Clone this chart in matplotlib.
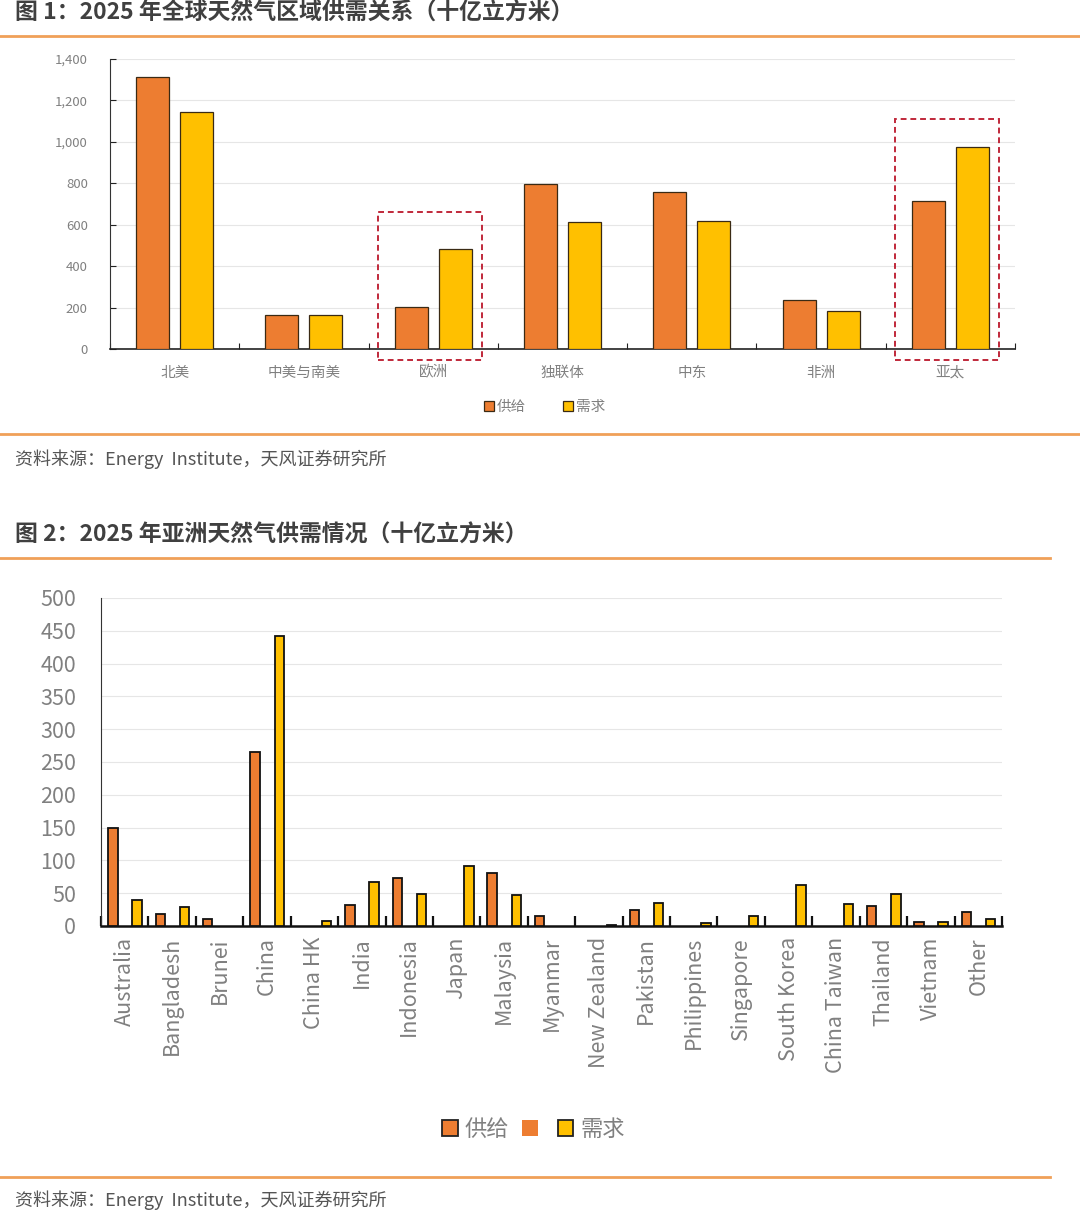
import numpy as np
import matplotlib.pyplot as plt
from matplotlib.patches import Rectangle
from matplotlib.ticker import FuncFormatter
from matplotlib.lines import Line2D

plt.rcParams['font.family'] = ['Noto Sans CJK SC', 'DejaVu Sans']

### data ###
regions = ['北美', '中美与南美', '欧洲', '独联体', '中东', '非洲', '亚太']
region_supply = [1313, 165, 203, 797, 758, 237, 715]
region_demand = [1145, 163, 483, 613, 618, 184, 976]
highlight = ['欧洲', '亚太']
highlight_top = [660, 1110]

countries = ['Australia', 'Bangladesh', 'Brunei', 'China', 'China HK', 'India',
             'Indonesia', 'Japan', 'Malaysia', 'Myanmar', 'New Zealand', 'Pakistan',
             'Philippines', 'Singapore', 'South Korea', 'China Taiwan', 'Thailand',
             'Vietnam', 'Other']
asia_supply = [149, 19, 11, 265, 0, 32, 73, 0, 81, 15, 0, 25, 0, 0, 0, 0, 30, 6, 21]
asia_demand = [40, 29, 0, 442, 7, 67, 49, 91, 47, 0, 2, 35, 4, 15, 62, 33, 49, 6, 11]

ORANGE = '#ED7D31'
YELLOW = '#FFC000'
LINE = '#F0A058'
GREY = '#808080'
TITLE = '#404040'

W, H = 1080, 1211
fig = plt.figure(figsize=(W / 100, H / 100), dpi=100)


def px(x, y):
    return x / W, 1 - y / H


def hline(y, x0, x1):
    fig.add_artist(Line2D([x0 / W, x1 / W], [1 - y / H, 1 - y / H], color=LINE, lw=2))


# headers / footers
fig.text(*px(15, 13), '图 1：2025 年全球天然气区域供需关系（十亿立方米）', fontsize=16.5,
         fontweight='bold', color=TITLE, va='center')
hline(36, 0, 1080)
hline(434, 0, 1080)
fig.text(*px(15, 459), '资料来源：Energy  Institute，天风证券研究所', fontsize=13,
         color='#555555', va='center')

fig.text(*px(15, 535), '图 2：2025 年亚洲天然气供需情况（十亿立方米）', fontsize=16.5,
         fontweight='bold', color=TITLE, va='center')
hline(558, 0, 1050)
hline(1177, 0, 1050)
fig.text(*px(15, 1200), '资料来源：Energy  Institute，天风证券研究所', fontsize=13,
         color='#555555', va='center')

### chart 1 ###
ax1 = fig.add_axes([110 / W, 1 - 349 / H, 905 / W, 290 / H])
x = np.arange(len(regions))
ax1.bar(x - 0.17, region_supply, 0.255, color=ORANGE, edgecolor='#3a2a14', lw=0.9,
        label='供给', zorder=3)
ax1.bar(x + 0.17, region_demand, 0.255, color=YELLOW, edgecolor='#3a2a14', lw=0.9,
        label='需求', zorder=3)
ax1.set_xlim(-0.5, len(regions) - 0.5)
ax1.set_ylim(0, 1400)
ax1.set_yticks(range(0, 1401, 200))
ax1.yaxis.set_major_formatter(FuncFormatter(lambda v, p: f'{int(v):,}'))
ax1.set_xticks(np.arange(len(regions) + 1) - 0.5)
ax1.set_xticklabels([])
ax1.set_xticks(x, minor=True)
ax1.set_xticklabels(regions, minor=True)
ax1.tick_params(axis='x', which='minor', length=0, pad=12, labelsize=10.5, labelcolor=GREY)
ax1.tick_params(axis='x', which='major', direction='in', length=4, color='#222222')
ax1.tick_params(axis='y', direction='in', length=4, labelsize=9.5, labelcolor=GREY,
                pad=16, color='#222222')
ax1.grid(axis='y', color='#E6E6E6', lw=0.8, zorder=0)
for s in ['top', 'right']:
    ax1.spines[s].set_visible(False)
ax1.spines['left'].set_color('#333333')
ax1.spines['bottom'].set_color('#222222')
ax1.spines['bottom'].set_linewidth(1.2)
for name, top in zip(highlight, highlight_top):
    i = regions.index(name)
    ax1.add_patch(Rectangle((i - 0.43, -52), 0.81, top + 52, fill=False,
                            edgecolor='#C0283A', lw=1.4, ls=(0, (3, 2)),
                            clip_on=False, zorder=4))
ax1.legend(loc='center', bbox_to_anchor=(0.48, -0.2), ncol=2, frameon=False,
           fontsize=10.5, handlelength=0.7, handleheight=0.7, handletextpad=0.2,
           columnspacing=2.5, labelcolor=GREY)

### chart 2 ###
ax2 = fig.add_axes([101 / W, 1 - 926 / H, 901 / W, 328 / H])
x2 = np.arange(len(countries))
sup = np.array(asia_supply, dtype=float)
dem = np.array(asia_demand, dtype=float)
ax2.bar(x2[sup > 0] - 0.25, sup[sup > 0], 0.2, color=ORANGE, edgecolor='#111111', lw=1.3,
        label='供给', zorder=3)
ax2.bar(x2[dem > 0] + 0.26, dem[dem > 0], 0.2, color=YELLOW, edgecolor='#111111', lw=1.3,
        label='需求', zorder=3)
ax2.set_xlim(-0.5, len(countries) - 0.5)
ax2.set_ylim(0, 500)
ax2.set_yticks(range(0, 501, 50))
ax2.set_xticks(np.arange(len(countries) + 1) - 0.5)
ax2.set_xticklabels([])
ax2.set_xticks(x2, minor=True)
ax2.set_xticklabels(countries, minor=True, rotation=90)
ax2.tick_params(axis='x', which='minor', length=0, pad=8, labelsize=15.5, labelcolor=GREY)
ax2.tick_params(axis='x', which='major', direction='in', length=7, width=1.6,
                color='#111111')
ax2.tick_params(axis='y', length=0, labelsize=15.5, labelcolor=GREY, pad=18)
ax2.grid(axis='y', color='#E6E6E6', lw=0.8, zorder=0)
for s in ['top', 'right']:
    ax2.spines[s].set_visible(False)
ax2.spines['left'].set_color('#333333')
ax2.spines['bottom'].set_color('#111111')
ax2.spines['bottom'].set_linewidth(1.8)
handles = [Rectangle((0, 0), 1, 1, fc=ORANGE, ec='#222222', lw=1.3),
           Rectangle((0, 0), 1, 1, fc=ORANGE, ec='none'),
           Rectangle((0, 0), 1, 1, fc=YELLOW, ec='#222222', lw=1.3)]
ax2.legend(handles, ['供给', '', '需求'], loc='center', bbox_to_anchor=(0.48, -0.62),
           ncol=3, frameon=False, fontsize=16, handlelength=0.7, handleheight=0.7,
           handletextpad=0.3, columnspacing=0.6, labelcolor=GREY)

fig.savefig('out.png', dpi=100)
